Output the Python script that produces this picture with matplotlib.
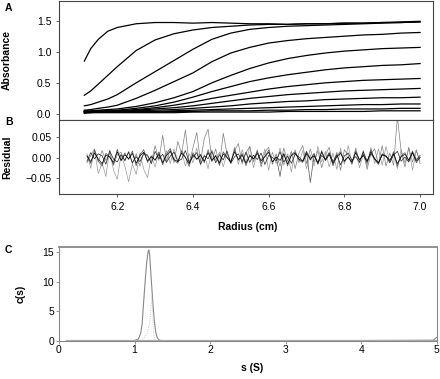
import numpy as np
import matplotlib.pyplot as plt

plt.rcParams['font.family'] = ['Liberation Sans', 'DejaVu Sans']

# --- Panel A: absorbance scans ---
radius = [6.113, 6.13, 6.15, 6.175, 6.2, 6.25, 6.3, 6.35, 6.4, 6.45, 6.5,
          6.55, 6.6, 6.65, 6.7, 6.75, 6.8, 6.85, 6.9, 6.95, 7.0]
scan1 = [0.85, 1.05, 1.20, 1.33, 1.39, 1.45, 1.47, 1.47, 1.46, 1.47, 1.46,
         1.45, 1.45, 1.44, 1.45, 1.45, 1.46, 1.46, 1.47, 1.48, 1.49]
scan2 = [0.30, 0.37, 0.48, 0.62, 0.76, 1.02, 1.19, 1.29, 1.35, 1.39, 1.41,
         1.43, 1.44, 1.44, 1.45, 1.45, 1.46, 1.46, 1.47, 1.47, 1.48]
scan3 = [0.13, 0.15, 0.19, 0.24, 0.31, 0.50, 0.68, 0.86, 1.04, 1.20, 1.30,
         1.36, 1.39, 1.41, 1.42, 1.43, 1.44, 1.45, 1.46, 1.47, 1.48]
scan4 = [0.06, 0.07, 0.09, 0.11, 0.14, 0.25, 0.38, 0.52, 0.66, 0.84, 0.98,
         1.07, 1.14, 1.18, 1.21, 1.23, 1.25, 1.27, 1.28, 1.30, 1.31]
scan5 = [0.05, 0.05, 0.06, 0.07, 0.08, 0.12, 0.18, 0.26, 0.36, 0.50, 0.62,
         0.73, 0.82, 0.89, 0.94, 0.98, 1.01, 1.03, 1.05, 1.06, 1.07]
scan6 = [0.04, 0.04, 0.05, 0.05, 0.06, 0.09, 0.13, 0.19, 0.27, 0.36, 0.44,
         0.52, 0.58, 0.63, 0.67, 0.71, 0.74, 0.76, 0.78, 0.79, 0.81]
scan7 = [0.04, 0.04, 0.04, 0.05, 0.05, 0.07, 0.10, 0.14, 0.19, 0.25, 0.30,
         0.35, 0.40, 0.44, 0.47, 0.50, 0.52, 0.54, 0.55, 0.56, 0.57]
scan8 = [0.03, 0.03, 0.04, 0.04, 0.04, 0.06, 0.08, 0.10, 0.13, 0.17, 0.21,
         0.25, 0.28, 0.31, 0.33, 0.35, 0.37, 0.38, 0.39, 0.40, 0.41]
scan9 = [0.03, 0.03, 0.03, 0.04, 0.04, 0.05, 0.06, 0.07, 0.09, 0.11, 0.13,
         0.16, 0.18, 0.20, 0.21, 0.23, 0.24, 0.25, 0.26, 0.26, 0.27]
scan10 = [0.03, 0.03, 0.03, 0.03, 0.03, 0.04, 0.04, 0.05, 0.06, 0.07, 0.08,
          0.09, 0.10, 0.11, 0.12, 0.13, 0.14, 0.15, 0.15, 0.16, 0.16]
scan11 = [0.02, 0.02, 0.03, 0.03, 0.03, 0.03, 0.03, 0.04, 0.04, 0.05, 0.05,
          0.05, 0.06, 0.06, 0.07, 0.07, 0.08, 0.08, 0.08, 0.09, 0.09]
scan12 = [0.01, 0.02, 0.02, 0.02, 0.02, 0.02, 0.02, 0.02, 0.03, 0.03, 0.03,
          0.03, 0.03, 0.04, 0.04, 0.04, 0.04, 0.04, 0.05, 0.05, 0.05]
scans = [scan1, scan2, scan3, scan4, scan5, scan6, scan7, scan8, scan9,
         scan10, scan11, scan12]

# --- Panel B: residual traces, rough hand readings in units of 0.001, every 0.01 cm ---
res_r = [6.12 + 0.01 * i for i in range(89)]
res_a = [4, -9, 12, -3, -14, 7, 2, -11, 15, -6, 8, -2, 11, -13, 5, 14, -7, 3, -5, 9,
         -12, 6, 16, -4, -9, 12, 1, -14, 8, -3, 6, -8, 13, -6, 4, -12, 10, 1, -9, 15,
         -4, 7, -13, 5, -2, 11, -7, 3, 14, -10, 2, -6, 9, -15, 6, 12, -3, -8, 10, -1,
         5, -11, 14, -5, 8, -13, 3, 11, -7, 2, -10, 13, -4, 6, -9, 15, -2, -12, 7, 4,
         -6, 10, -14, 3, 9, -5, 12, -8, 1]
res_b = [-8, 13, -2, 10, 5, -15, 17, -3, -10, 8, -6, 14, -12, 3, -9, 11, 7, -14, 16, -2,
         9, -11, 4, 14, -8, -3, 18, -10, 2, 13, -15, 5, -2, 16, -12, 8, -5, 17, -13, 3,
         10, -9, 14, -11, 7, -4, 12, -16, 6, 1, -7, 15, -10, 4, -13, 9, 2, -8, 16, -5,
         11, -14, 6, -3, 13, -9, 8, -17, 5, 12, -6, 3, -11, 15, -7, 10, -2, -13, 9, 4,
         -12, 7, 16, -8, 2, -10, 14, -4, 6]
res_c = [10, -25, 18, -38, -12, -45, 20, -30, -52, 8, -20, -58, -15, -40, 12, -28, -48, 5, -22, 15,
         -10, 18, -14, 22, -8, 16, -20, 10, -12, 24, -18, 8, -26, 20, -6, 14, -22, 12, -10, 26,
         -16, 20, -12, 28, -24, 16, -8, 22, -30, 14, -14, 24, -18, 10, -34, 20, -12, 18, -26, 8,
         -20, 28, -10, 16, -22, 12, -28, 24, -16, 30, -12, 18, -24, 10, -20, 26, -14, 22, -18, 28,
         -10, 16, -26, 20, -12, 24, -30, 18, -8]
res_d = [-12, 6, 22, -10, 18, -6, 12, -18, 8, 14, -8, 16, -14, 10, -20, 12, 4, -10, 30, -6,
         55, -8, 20, -12, 40, 10, 68, -14, 25, 62, -10, 48, 70, -6, 22, -18, 60, 10, -12, 18,
         35, -15, 12, 28, -10, 20, -22, 14, 26, -16, 10, -20, 24, -8, 16, -26, 12, 30, -14, 22,
         -10, 18, -24, 8, 26, -18, 14, -30, 20, 6, -16, 24, -12, 18, -28, 10, 22, -14, 30, -20,
         12, -18, 100, 16, -22, 26, -10, 20, -14]
res_e = [6, -14, 19, -8, -20, 11, 3, -16, 21, -7, 12, -4, 17, -19, 8, 20, -11, 5, -6, 14,
         -17, 10, 23, -5, -13, 18, 2, -21, 13, -4, 9, -12, 20, -9, 7, -18, 15, 2, -13, 22,
         -6, 11, -19, 8, -3, 16, -14, 4, 19, -10, 3, -45, 12, -20, 9, 15, -6, -11, 14, -60,
         7, -16, 18, -7, 11, -19, 5, 15, -10, 3, -14, 17, -6, 9, -13, 20, -4, -16, 10, 6,
         -9, 14, -20, 5, 13, -8, 17, -12, 2]

# --- Panel C: c(s) distribution ---
s_vals = [0.1, 0.5, 1.0, 1.05, 1.08, 1.10, 1.12, 1.14, 1.16, 1.18, 1.19, 1.20,
          1.22, 1.24, 1.26, 1.28, 1.30, 1.33, 1.36, 2.0, 3.0, 4.0, 4.95, 5.0]
c_vals = [0.05, 0.05, 0.05, 0.3, 1.2, 2.8, 6.5, 10.0, 13.2, 15.1, 15.3, 14.5,
          10.5, 6.8, 3.6, 1.5, 0.5, 0.1, 0.05, 0.05, 0.05, 0.05, 0.1, 0.6]
s_dot = [1.03, 1.10, 1.16, 1.20, 1.23, 1.24, 1.25, 1.27]
c_dot = [-0.3, 0.2, 1.0, 3.0, 7.5, 5.0, 1.5, 0.0]

fig = plt.figure(figsize=(4.4, 3.79), dpi=100)
axA = fig.add_axes([0.134, 0.683, 0.85, 0.315])
axB = fig.add_axes([0.134, 0.488, 0.85, 0.195], sharex=axA)
axC = fig.add_axes([0.134, 0.100, 0.859, 0.248])

for sc in scans:
    axA.plot(radius, sc, color='black', lw=0.9)
axA.set_ylim(-0.1, 1.82)
axA.set_xlim(6.046, 7.034)
axA.set_yticks([0.0, 0.5, 1.0, 1.5])
axA.set_yticklabels(['0.0', '0.5', '1.0', '1.5'])
axA.tick_params(axis='x', bottom=False, labelbottom=False)
axA.set_ylabel('Absorbance', fontweight='bold', fontsize=7.5)
axA.yaxis.set_label_coords(-0.126, 0.5)

for res, col in [(res_c, '#9a9a9a'), (res_d, '#808080'), (res_e, '#555555'),
                 (res_b, '#222222'), (res_a, 'black')]:
    axB.plot(res_r, np.array(res) * 0.001, color=col, lw=0.5)
axB.set_ylim(-0.088, 0.092)
axB.set_yticks([-0.05, 0.0, 0.05])
axB.set_yticklabels(['\u22120.05', '0.00', '0.05'])
axB.set_xticks([6.2, 6.4, 6.6, 6.8, 7.0])
axB.set_xticklabels(['6.2', '6.4', '6.6', '6.8', '7.0'])
axB.set_ylabel('Residual', fontweight='bold', fontsize=7.5)
axB.yaxis.set_label_coords(-0.126, 0.5)
axB.set_xlabel('Radius (cm)', fontweight='bold', fontsize=7.5)
axB.xaxis.set_label_coords(0.505, -0.38)

axC.plot(s_vals, c_vals, color='#888888', lw=0.8)
axC.plot([0.1, 5.0], [0, 0], color='#aaaaaa', lw=1.5)
axC.plot(s_dot, c_dot, color='#bbbbbb', lw=0.6, ls=':')
axC.set_xlim(0, 5)
axC.set_ylim(-0.05, 15.8)
axC.set_xticks([0, 1, 2, 3, 4, 5])
axC.set_yticks([0, 5, 10, 15])
axC.set_ylabel('c(s)', fontweight='bold', fontsize=7.5)
axC.yaxis.set_label_coords(-0.087, 0.5)
axC.set_xlabel('s (S)', fontweight='bold', fontsize=7.5)
axC.xaxis.set_label_coords(0.51, -0.23)

for ax in (axA, axB):
    for sp in ax.spines.values():
        sp.set_color('#444444')
        sp.set_linewidth(0.8)
    ax.tick_params(labelsize=7.5, length=2.5, width=0.6, pad=3, color='#444444')
for sp in axC.spines.values():
    sp.set_color('#888888')
    sp.set_linewidth(0.8)
axC.spines['top'].set_linewidth(1.3)
axC.tick_params(labelsize=7.5, length=2, width=0.6, pad=1.5, color='#888888')
axC.tick_params(axis='x', pad=0.5)

fig.text(0.011, 0.979, 'A', fontweight='bold', fontsize=7.5, va='center')
fig.text(0.011, 0.678, 'B', fontweight='bold', fontsize=7.5, va='center')
fig.text(0.011, 0.340, 'C', fontweight='bold', fontsize=7.5, va='center')

fig.savefig('out.png', dpi=100)
